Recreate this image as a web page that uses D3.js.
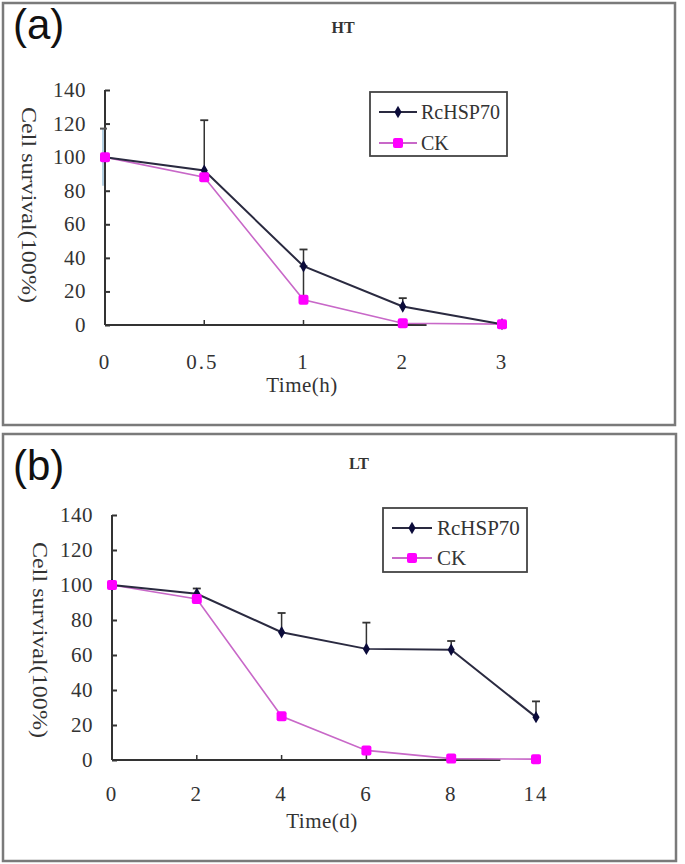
<!DOCTYPE html>
<html>
<head>
<meta charset="utf-8">
<script src="https://cdn.jsdelivr.net/npm/d3@7"></script>
<style>
  html, body { margin: 0; padding: 0; background: #fff; }
  svg { display: block; }
  text { font-family: "Liberation Serif", "DejaVu Serif", serif; fill: #222; }
</style>
</head>
<body>
<svg id="chart" width="685" height="864"></svg>
<script>
// ---------- data ----------
const seriesNames = ["RcHSP70", "CK"];
const yTicks = [0, 20, 40, 60, 80, 100, 120, 140];

// (a) HT
const htTimes = ["0", "0.5", "1", "2", "3"];
const htRc    = [100, 92, 35, 11, 0.5];
const htRcErr = [17, 30, 10, 5, 0];
const htCk    = [100, 88, 15, 1, 0.5];
const htCkErr = [0, 0, 20, 0, 0];
const htAxisEnd = 3.24;   // x-axis line stops here (index units)

// (b) LT
const ltTimes = ["0", "2", "4", "6", "8", "14"];
const ltRc    = [100, 95, 73, 63.5, 63, 24.5];
const ltRcErr = [0, 3, 11, 15, 5, 9];
const ltCk    = [100, 92, 25, 5.5, 0.8, 0.5];
const ltCkErr = [0, 0, 0, 0, 0, 0];
const ltAxisEnd = 4.58;

// ---------- drawing ----------
const svg = d3.select("#chart");
const RC_LINE = "#2a2a40", RC_MARK = "#0b0b3a";
const CK_LINE = "#c868c8", CK_MARK = "#ff00ff";

function panel(cfg) {
  const g = svg.append("g");
  // frame
  g.append("rect")
    .attr("x", cfg.frame[0]).attr("y", cfg.frame[1])
    .attr("width", cfg.frame[2]).attr("height", cfg.frame[3])
    .attr("fill", "none").attr("stroke", "#7a7a7a").attr("stroke-width", 2.5);

  // panel letter
  g.append("text").attr("x", cfg.letterPos[0]).attr("y", cfg.letterPos[1])
    .style("font-family", "'Liberation Sans', Arial, sans-serif")
    .style("font-size", "42px").style("fill", "#111").text(cfg.letter);

  // title
  g.append("text").attr("x", cfg.titlePos[0]).attr("y", cfg.titlePos[1])
    .attr("text-anchor", "middle").style("font-size", "16px").style("font-weight", "bold")
    .style("fill", "#333").text(cfg.title);

  const n = cfg.times.length;
  const x = d3.scaleLinear().domain([0, n - 1]).range(cfg.xRange);
  const y = d3.scaleLinear().domain([0, 140]).range(cfg.yRange);

  // y axis
  const yAxis = d3.axisRight(y).tickValues(yTicks).tickSize(5).tickFormat("");
  const ya = g.append("g").attr("transform", `translate(${cfg.xRange[0]},0)`).call(yAxis);
  ya.select(".domain").attr("stroke", "#333").attr("stroke-width", 2).attr("d", `M0,${y(0)}V${y(140)}`);
  ya.selectAll(".tick line").attr("stroke", "#333").attr("stroke-width", 2);

  g.selectAll(".ylab").data(yTicks).join("text")
    .attr("x", cfg.xRange[0] - 19).attr("y", d => y(d) + 7)
    .attr("text-anchor", "end").style("font-size", "21px").style("letter-spacing", "0.5px")
    .style("fill", "#333").text(d => d);

  // x axis
  const xa = g.append("g").attr("transform", `translate(0,${y(0)})`);
  xa.append("path").attr("d", `M${x(0)},0H${x(cfg.axisEnd)}`)
    .attr("stroke", "#333").attr("stroke-width", 2.2).attr("fill", "none");
  xa.selectAll("line").data(d3.range(1, n)).join("line")
    .attr("x1", d => x(d)).attr("x2", d => x(d)).attr("y1", 0).attr("y2", -5)
    .attr("stroke", "#333").attr("stroke-width", 1.5);

  g.selectAll(".xlab").data(cfg.times).join("text")
    .attr("x", (d, i) => x(i) - (d.length > 2 ? 2 : 0)).attr("y", cfg.xLabY)
    .attr("text-anchor", "middle").style("font-size", "21px").style("letter-spacing", "2px")
    .style("fill", "#333").text(d => d);

  // axis titles
  g.append("text").attr("x", cfg.xTitle[0]).attr("y", cfg.xTitle[1])
    .attr("text-anchor", "middle").style("font-size", "21px").style("letter-spacing", "0.5px")
    .style("fill", "#333").text(cfg.xTitleText);
  g.append("text")
    .attr("transform", `translate(${cfg.yTitle[0]},${cfg.yTitle[1]}) rotate(90)`)
    .attr("text-anchor", "middle").attr("dy", "0.35em")
    .attr("textLength", 196).attr("lengthAdjust", "spacingAndGlyphs")
    .style("font-size", "21px").style("fill", "#333").text("Cell survival(100%)");

  // error bars
  function errBars(vals, errs, col) {
    const d = vals.map((v, i) => ({ i, v, e: errs[i] })).filter(o => o.e > 0);
    g.selectAll(null).data(d).join("line")
      .attr("x1", o => x(o.i)).attr("x2", o => x(o.i))
      .attr("y1", o => y(o.v)).attr("y2", o => y(o.v + o.e))
      .attr("stroke", col).attr("stroke-width", 1.5);
    g.selectAll(null).data(d).join("line")
      .attr("x1", o => x(o.i) - 4).attr("x2", o => x(o.i) + 4)
      .attr("y1", o => y(o.v + o.e)).attr("y2", o => y(o.v + o.e))
      .attr("stroke", col).attr("stroke-width", 1.8);
  }
  errBars(cfg.rc, cfg.rcErr.map((e, i) => i === 0 ? 0 : e), "#333");
  errBars(cfg.ck, cfg.ckErr, "#333");
  if (cfg.rcErr[0] > 0) {
    // light error bar at t=0
    g.append("line").attr("x1", x(0) - 2).attr("x2", x(0) - 2)
      .attr("y1", y(cfg.rc[0] - cfg.rcErr[0])).attr("y2", y(cfg.rc[0] + cfg.rcErr[0]))
      .attr("stroke", "#9cc0d8").attr("stroke-width", 1.5);
    g.append("line").attr("x1", x(0) - 5).attr("x2", x(0) + 2)
      .attr("y1", y(cfg.rc[0] + cfg.rcErr[0])).attr("y2", y(cfg.rc[0] + cfg.rcErr[0]))
      .attr("stroke", "#555").attr("stroke-width", 2);
  }

  const line = d3.line().x((d, i) => x(i)).y(d => y(d));
  g.append("path").datum(cfg.ck).attr("d", line)
    .attr("fill", "none").attr("stroke", CK_LINE).attr("stroke-width", 1.6);
  g.append("path").datum(cfg.rc).attr("d", line)
    .attr("fill", "none").attr("stroke", RC_LINE).attr("stroke-width", 2);

  const diamond = d3.symbol().type(d3.symbolDiamond).size(44);
  g.selectAll(null).data(cfg.rc).join("path")
    .attr("transform", (d, i) => `translate(${x(i)},${y(d)})`)
    .attr("d", diamond).attr("fill", RC_MARK);
  g.selectAll(null).data(cfg.ck).join("rect")
    .attr("x", (d, i) => x(i) - 5).attr("y", d => y(d) - 5)
    .attr("width", 10).attr("height", 10).attr("rx", 2).attr("fill", CK_MARK);

  // legend
  const L = cfg.legend;
  g.append("rect").attr("x", L.box[0]).attr("y", L.box[1])
    .attr("width", L.box[2]).attr("height", L.box[3])
    .attr("fill", "#fff").attr("stroke", "#444").attr("stroke-width", 1.8);
  const items = [
    { name: seriesNames[0], lc: RC_LINE, mc: RC_MARK, y: L.rows[0], shape: "d" },
    { name: seriesNames[1], lc: CK_LINE, mc: CK_MARK, y: L.rows[1], shape: "s" }
  ];
  items.forEach(it => {
    g.append("line").attr("x1", L.line[0]).attr("x2", L.line[1])
      .attr("y1", it.y).attr("y2", it.y).attr("stroke", it.lc).attr("stroke-width", 1.8);
    const mx = (L.line[0] + L.line[1]) / 2;
    if (it.shape === "d") {
      g.append("path").attr("transform", `translate(${mx},${it.y})`)
        .attr("d", diamond).attr("fill", it.mc);
    } else {
      g.append("rect").attr("x", mx - 5).attr("y", it.y - 5).attr("width", 10).attr("height", 10)
        .attr("rx", 2).attr("fill", it.mc);
    }
    g.append("text").attr("x", L.text).attr("y", it.y + 7)
      .style("font-size", L.font + "px").style("fill", "#333").text(it.name);
  });
}

panel({
  frame: [3, 3, 672, 422], letter: "(a)", letterPos: [13, 39],
  title: "HT", titlePos: [343, 33],
  times: htTimes, rc: htRc, rcErr: htRcErr, ck: htCk, ckErr: htCkErr, axisEnd: htAxisEnd,
  xRange: [105, 502], yRange: [325, 90], xLabY: 369,
  xTitle: [302, 392], xTitleText: "Time(h)", yTitle: [29, 205],
  legend: { box: [370, 92, 137, 64], rows: [112, 143], line: [379, 417], text: 421, font: 20 }
});

panel({
  frame: [3, 434, 673, 427], letter: "(b)", letterPos: [13, 480],
  title: "LT", titlePos: [359, 469],
  times: ltTimes, rc: ltRc, rcErr: ltRcErr, ck: ltCk, ckErr: ltCkErr, axisEnd: ltAxisEnd,
  xRange: [112, 536], yRange: [760, 515], xLabY: 801,
  xTitle: [322, 828], xTitleText: "Time(d)", yTitle: [40, 640],
  legend: { box: [383, 508, 144, 64], rows: [528, 558], line: [392, 432], text: 437, font: 21 }
});
</script>
</body>
</html>
